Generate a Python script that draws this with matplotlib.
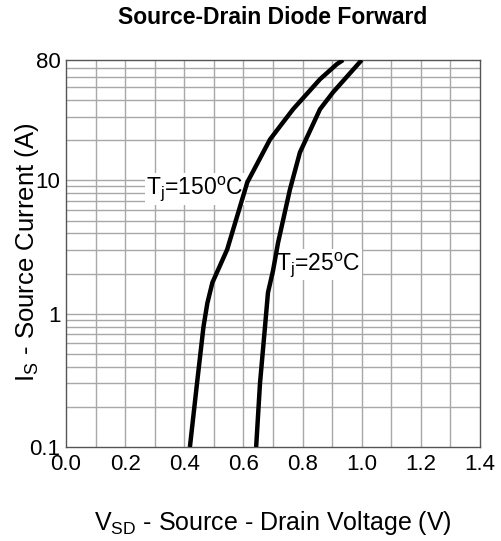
import matplotlib
matplotlib.use("Agg")
import matplotlib.pyplot as plt
import numpy as np

plt.rcParams['font.family'] = ['Liberation Sans', 'DejaVu Sans']
plt.rcParams['mathtext.fontset'] = 'custom'
plt.rcParams['mathtext.rm'] = 'Liberation Sans'
plt.rcParams['mathtext.it'] = 'Liberation Sans'

v_150 = [0.419, 0.443, 0.465, 0.478, 0.495, 0.545, 0.613, 0.690, 0.724, 0.768, 0.859, 0.916, 0.937]
i_150 = [0.1, 0.3, 0.8, 1.2, 1.71, 3.03, 9.66, 20.3, 25.5, 34.2, 57.4, 74.5, 80]
v_25 = [0.643, 0.656, 0.673, 0.683, 0.700, 0.713, 0.717, 0.757, 0.791, 0.859, 0.903, 0.950, 1.0]
i_25 = [0.1, 0.3, 0.8, 1.44, 2.1, 3.03, 3.4, 8.5, 16.2, 34.2, 45.8, 60, 80]

x_ticks = [0.0, 0.2, 0.4, 0.6, 0.8, 1.0, 1.2, 1.4]
y_ticks = [0.1, 1, 10, 80]
y_tick_labels = ['0.1', '1', '10', '80']

fig = plt.figure(figsize=(5.02, 5.41), dpi=100)
ax = fig.add_axes([66/502, 1-447/541, 414/502, 387/541])

ax.set_yscale('log')
ax.set_xlim(0, 1.4)
ax.set_ylim(0.1, 80)

# grid lines
for xv in np.arange(0.1, 1.4, 0.1):
    ax.axvline(xv, color='#a8a8a8', lw=1.0, zorder=1)
for dec in [0.1, 1, 10]:
    for m in range(1, 10):
        yv = dec * m
        if 0.1 < yv < 80:
            ax.axhline(yv, color='#a8a8a8', lw=1.0, zorder=1)

ax.plot(v_150, i_150, color='black', lw=3.2, zorder=5, solid_capstyle='butt')
ax.plot(v_25, i_25, color='black', lw=3.2, zorder=5, solid_capstyle='butt')

ax.text(0.272, 8.6, r'T$_{\mathregular{j}}$=150$^{\mathregular{o}}$C', fontsize=16.5,
        ha='left', va='center', zorder=4,
        bbox=dict(facecolor='white', edgecolor='none', pad=1.0))
ax.text(0.71, 2.35, r'T$_{\mathregular{j}}$=25$^{\mathregular{o}}$C', fontsize=16.5,
        ha='left', va='center', zorder=4,
        bbox=dict(facecolor='white', edgecolor='none', pad=1.0))

ax.set_xticks(x_ticks)
ax.set_xticklabels(['%.1f' % t for t in x_ticks])
ax.set_yticks(y_ticks)
ax.set_yticklabels(y_tick_labels)
ax.yaxis.set_minor_locator(matplotlib.ticker.NullLocator())
ax.tick_params(length=0, labelsize=16, pad=4)
ax.tick_params(axis='x', pad=5)

for s in ax.spines.values():
    s.set_color('#555555')
    s.set_linewidth(1.0)

fig.text(273/502, 1-18/541, 'Source-Drain Diode Forward', fontsize=16.5, fontweight='bold',
         ha='center', va='center')
fig.text(273/502, 1-523/541, r'V$_{\mathregular{SD}}$ - Source - Drain Voltage (V)', fontsize=18,
         ha='center', va='center')
fig.text(27/502, 1-252/541, r'I$_{\mathregular{S}}$ - Source Current (A)', fontsize=18.5,
         ha='center', va='center', rotation=90)

fig.savefig('out.png', dpi=100)
